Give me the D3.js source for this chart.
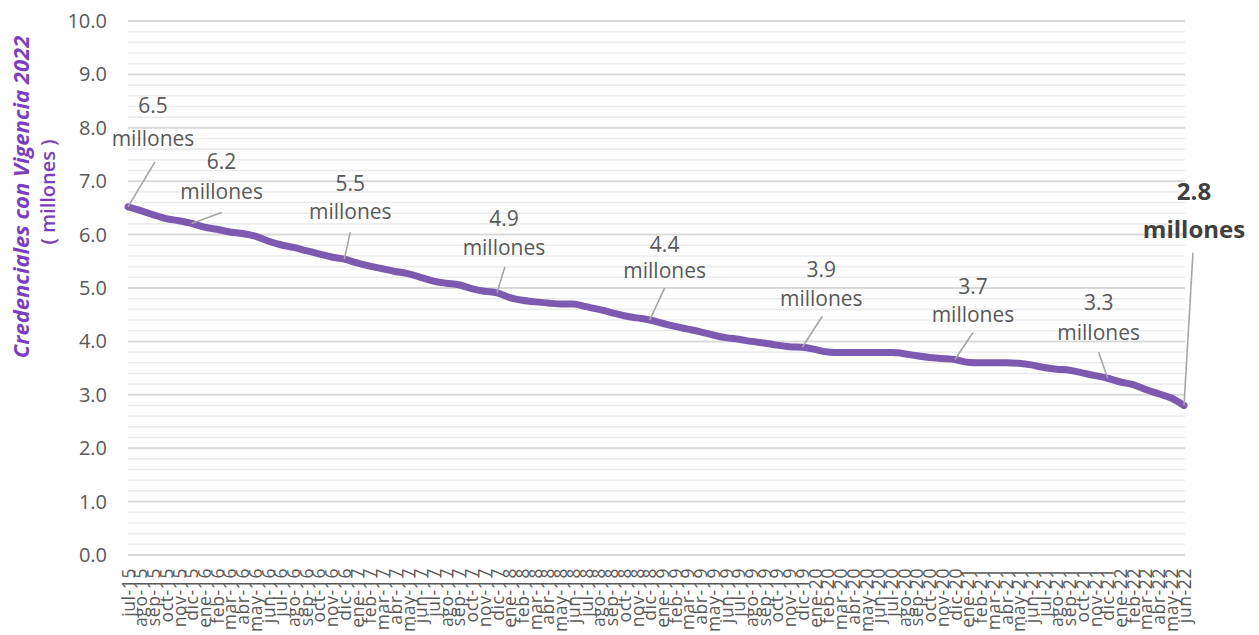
<!DOCTYPE html>
<html>
<head>
<meta charset="utf-8">
<script src="https://cdn.jsdelivr.net/npm/d3@7"></script>
<style>
  html, body { margin: 0; padding: 0; background: #ffffff; }
  svg { display: block; }
</style>
</head>
<body>
<svg id="chart" width="1259" height="635"></svg>
<script>
// ---------- DATA ----------
const months = [
  "jul-15","ago-15","sep-15","oct-15","nov-15","dic-15",
  "ene-16","feb-16","mar-16","abr-16","may-16","jun-16","jul-16","ago-16","sep-16","oct-16","nov-16","dic-16",
  "ene-17","feb-17","mar-17","abr-17","may-17","jun-17","jul-17","ago-17","sep-17","oct-17","nov-17","dic-17",
  "ene-18","feb-18","mar-18","abr-18","may-18","jun-18","jul-18","ago-18","sep-18","oct-18","nov-18","dic-18",
  "ene-19","feb-19","mar-19","abr-19","may-19","jun-19","jul-19","ago-19","sep-19","oct-19","nov-19","dic-19",
  "ene-20","feb-20","mar-20","abr-20","may-20","jun-20","jul-20","ago-20","sep-20","oct-20","nov-20","dic-20",
  "ene-21","feb-21","mar-21","abr-21","may-21","jun-21","jul-21","ago-21","sep-21","oct-21","nov-21","dic-21",
  "ene-22","feb-22","mar-22","abr-22","may-22","jun-22"
];
const credenciales = [
  6.52, 6.45, 6.37, 6.30, 6.26, 6.21,
  6.14, 6.10, 6.05, 6.02, 5.97, 5.88, 5.81, 5.76, 5.70, 5.64, 5.58, 5.54,
  5.47, 5.41, 5.36, 5.31, 5.27, 5.20, 5.13, 5.09, 5.06, 4.99, 4.94, 4.91,
  4.82, 4.77, 4.74, 4.72, 4.70, 4.70, 4.65, 4.60, 4.54, 4.48, 4.44, 4.40,
  4.34, 4.28, 4.23, 4.18, 4.12, 4.07, 4.04, 4.00, 3.97, 3.93, 3.90, 3.89,
  3.85, 3.80, 3.79, 3.79, 3.79, 3.79, 3.79, 3.77, 3.73, 3.70, 3.68, 3.66,
  3.61, 3.60, 3.60, 3.60, 3.59, 3.56, 3.51, 3.48, 3.46, 3.41, 3.36, 3.31,
  3.24, 3.19, 3.10, 3.02, 2.94, 2.80
];
const yTickValues = [0, 1, 2, 3, 4, 5, 6, 7, 8, 9, 10];
const annMonths = ["jul-15","dic-15","dic-16","dic-17","dic-18","dic-19","dic-20","dic-21","jun-22"];
const annValues = ["6.5","6.2","5.5","4.9","4.4","3.9","3.7","3.3","2.8"];
const annUnit = "millones";
const yTitle1 = "Credenciales con Vigencia 2022";
const yTitle2 = "( millones )";

// ---------- LAYOUT (pixel offsets for annotation labels, relative to the point) ----------
const annLayout = [
  {dx: 25, v: -94, m: -61, px: 27, py: -45, bold: false},
  {dx: 30, v: -54, m: -24, px: 30, py: -11, bold: false},
  {dx: 6,  v: -68, m: -40, px: 6,  py: -27, bold: false},
  {dx: 7,  v: -67, m: -38, px: 8,  py: -26, bold: false},
  {dx: 15, v: -68, m: -42, px: 15, py: -32, bold: false},
  {dx: 19, v: -70, m: -41, px: 20, py: -31, bold: false},
  {dx: 18, v: -66, m: -38, px: 18, py: -27, bold: false},
  {dx: -9, v: -68, m: -38, px: -9, py: -26, bold: false},
  {dx: 10, v: -205, m: -167, px: 9, py: -153, bold: true}
];

const svg = d3.select("#chart");
const plotLeft = 128, plotRight = 1184, plotTop = 21, plotBottom = 555;

const x = d3.scalePoint().domain(months).range([plotLeft, plotRight]).padding(0);
const y = d3.scaleLinear().domain([0, 10]).range([plotBottom, plotTop]);

// gridlines: minor every 0.2, major every 1
const grid = svg.append("g");
grid.selectAll("line.minor")
  .data(y.ticks(50).filter(v => Math.abs(v - Math.round(v)) > 1e-6))
  .enter().append("line")
  .attr("x1", plotLeft).attr("x2", plotRight + 1)
  .attr("y1", d => y(d)).attr("y2", d => y(d))
  .attr("stroke", "#ececec").attr("stroke-width", 1.6);
grid.selectAll("line.major")
  .data(yTickValues)
  .enter().append("line")
  .attr("x1", plotLeft).attr("x2", plotRight + 1)
  .attr("y1", d => y(d)).attr("y2", d => y(d))
  .attr("stroke", "#d9d9d9").attr("stroke-width", 2);

// Y axis
const yAxis = svg.append("g")
  .attr("transform", `translate(${plotLeft},0)`)
  .call(d3.axisLeft(y).tickValues(yTickValues).tickFormat(d3.format(".1f")).tickSize(0).tickPadding(21));
yAxis.select(".domain").remove();
yAxis.selectAll("text")
  .attr("fill", "#595959")
  .style("font-family", "'Open Sans', sans-serif")
  .style("font-size", "20px");

// X axis
const xAxis = svg.append("g")
  .attr("transform", `translate(0,${plotBottom})`)
  .call(d3.axisBottom(x).tickSize(0).tickPadding(0));
xAxis.select(".domain").remove();
xAxis.selectAll("text")
  .attr("fill", "#595959")
  .style("font-family", "'Open Sans', sans-serif")
  .style("font-size", "17.5px")
  .style("letter-spacing", "0.6px")
  .attr("text-anchor", "end")
  .attr("transform", "rotate(-90)")
  .attr("x", -13)
  .attr("y", 0)
  .attr("dy", "0.35em");

// line
const line = d3.line()
  .x((d, i) => x(months[i]))
  .y(d => y(d))
  .curve(d3.curveMonotoneX);
svg.append("path")
  .datum(credenciales)
  .attr("d", line)
  .attr("fill", "none")
  .attr("stroke", "#7b5aaf")
  .attr("stroke-width", 7)
  .attr("stroke-linejoin", "round")
  .attr("stroke-linecap", "round");

// annotations
annMonths.forEach((m, k) => {
  const i = months.indexOf(m);
  const px = x(m), py = y(credenciales[i]);
  const L = annLayout[k];
  const g = svg.append("g");
  g.append("line")
    .attr("x1", px + L.px).attr("y1", py + L.py)
    .attr("x2", px).attr("y2", py)
    .attr("stroke", "#a6a6a6").attr("stroke-width", 1.6);
  const fs = L.bold ? 24 : 21;
  const col = L.bold ? "#404040" : "#595959";
  [[annValues[k], L.v], [annUnit, L.m]].forEach(([t, dy]) => {
    g.append("text")
      .attr("x", px + L.dx).attr("y", py + dy)
      .attr("text-anchor", "middle")
      .attr("fill", col)
      .style("font-family", "'Open Sans', sans-serif")
      .style("font-size", fs + "px")
      .style("font-weight", L.bold ? "bold" : "normal")
      .text(t);
  });
});

// y title
svg.append("text")
  .attr("transform", "translate(21,197) rotate(-90)")
  .attr("text-anchor", "middle")
  .attr("dy", "0.35em")
  .attr("fill", "#7a3fc0")
  .style("font-family", "'Open Sans', sans-serif")
  .style("font-size", "22px")
  .style("font-weight", "bold")
  .style("font-style", "italic")
  .text(yTitle1);
svg.append("text")
  .attr("transform", "translate(48,192) rotate(-90)")
  .attr("text-anchor", "middle")
  .attr("dy", "0.35em")
  .attr("fill", "#7a3fc0")
  .style("font-family", "'Open Sans', sans-serif")
  .style("font-size", "20px")
  .style("font-weight", "600")
  .text(yTitle2);
</script>
</body>
</html>
